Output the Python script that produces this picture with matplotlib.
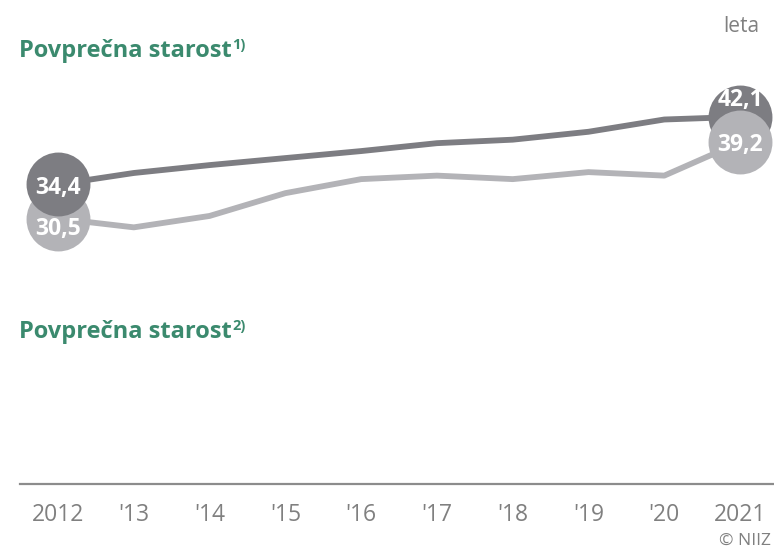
import matplotlib
matplotlib.use("Agg")
import matplotlib.pyplot as plt

# data
years = [2012, 2013, 2014, 2015, 2016, 2017, 2018, 2019, 2020, 2021]
tick_labels = ["2012", "'13", "'14", "'15", "'16", "'17", "'18", "'19", "'20", "2021"]
dark_vals = [34.4, 35.7, 36.6, 37.4, 38.2, 39.1, 39.5, 40.4, 41.8, 42.1]
light_vals = [30.5, 29.5, 30.8, 33.4, 35.0, 35.4, 35.0, 35.8, 35.4, 39.2]

DARK = "#7d7d82"
LIGHT = "#b3b3b7"
GREEN = "#3b8a6e"
GREY_TXT = "#808080"

plt.rcParams["font.family"] = ["Open Sans", "DejaVu Sans"]

W, H = 774, 552
fig = plt.figure(figsize=(W / 100, H / 100), dpi=100)


def fx(x):
    return x / W


def fy(y):
    return 1 - y / H


# axes: bottom spine at y=484 px, left at 20 px
ax = fig.add_axes([fx(20), fy(484), 1 - fx(20), fy(0) - fy(484)])
ax.set_xlim(2011.4986, 2021.448)
ax.set_ylim(0.228, 55.43)

ax.plot(years, dark_vals, color=DARK, lw=4.2, solid_capstyle="butt", zorder=2)
ax.plot(years, light_vals, color=LIGHT, lw=4.2, solid_capstyle="butt", zorder=2)

# end markers: dark on top at start, light on top at end
ms = 46
ax.plot(years[0], light_vals[0], "o", ms=ms, color=LIGHT, mec="none", zorder=3)
ax.plot(years[0], dark_vals[0], "o", ms=ms, color=DARK, mec="none", zorder=4)
ax.plot(years[-1], dark_vals[-1], "o", ms=ms, color=DARK, mec="none", zorder=3)
ax.plot(years[-1], light_vals[-1], "o", ms=ms, color=LIGHT, mec="none", zorder=4)


def lab(x, v, dy):
    ax.annotate(f"{v:.1f}".replace(".", ","), xy=(x, v), xytext=(0, dy),
                textcoords="offset pixels", ha="center", va="center",
                color="white", fontsize=16.5, fontweight="bold", zorder=6)


lab(years[0], dark_vals[0], -4)
lab(years[0], light_vals[0], -10)
lab(years[-1], dark_vals[-1], 17)
lab(years[-1], light_vals[-1], -3)

for s in ["top", "right", "left"]:
    ax.spines[s].set_visible(False)
ax.spines["bottom"].set_color("#8c8c8c")
ax.spines["bottom"].set_linewidth(1.6)
ax.set_yticks([])
ax.set_xticks(years)
ax.set_xticklabels(tick_labels, fontsize=16.5, color=GREY_TXT)
ax.tick_params(axis="x", length=0, pad=14)

# titles
t1 = fig.text(fx(19), fy(57), "Povprečna starost", fontsize=17, fontweight="bold",
              color=GREEN, va="baseline", ha="left")
ax.annotate("1)", xy=(1, 1), xycoords=t1, xytext=(0.5, 1), textcoords="offset points",
            fontsize=10.5, fontweight="bold", color=GREEN, va="top", ha="left")
t2 = fig.text(fx(19), fy(338), "Povprečna starost", fontsize=17, fontweight="bold",
              color=GREEN, va="baseline", ha="left")
ax.annotate("2)", xy=(1, 1), xycoords=t2, xytext=(0.5, 1), textcoords="offset points",
            fontsize=10.5, fontweight="bold", color=GREEN, va="top", ha="left")

fig.text(fx(759), fy(32), "leta", fontsize=15, color=GREY_TXT, ha="right", va="baseline")
fig.text(fx(771), fy(541), "© NIIZ", fontsize=12.5, color=GREY_TXT, ha="right", va="center")

fig.savefig("out.png", dpi=100)
